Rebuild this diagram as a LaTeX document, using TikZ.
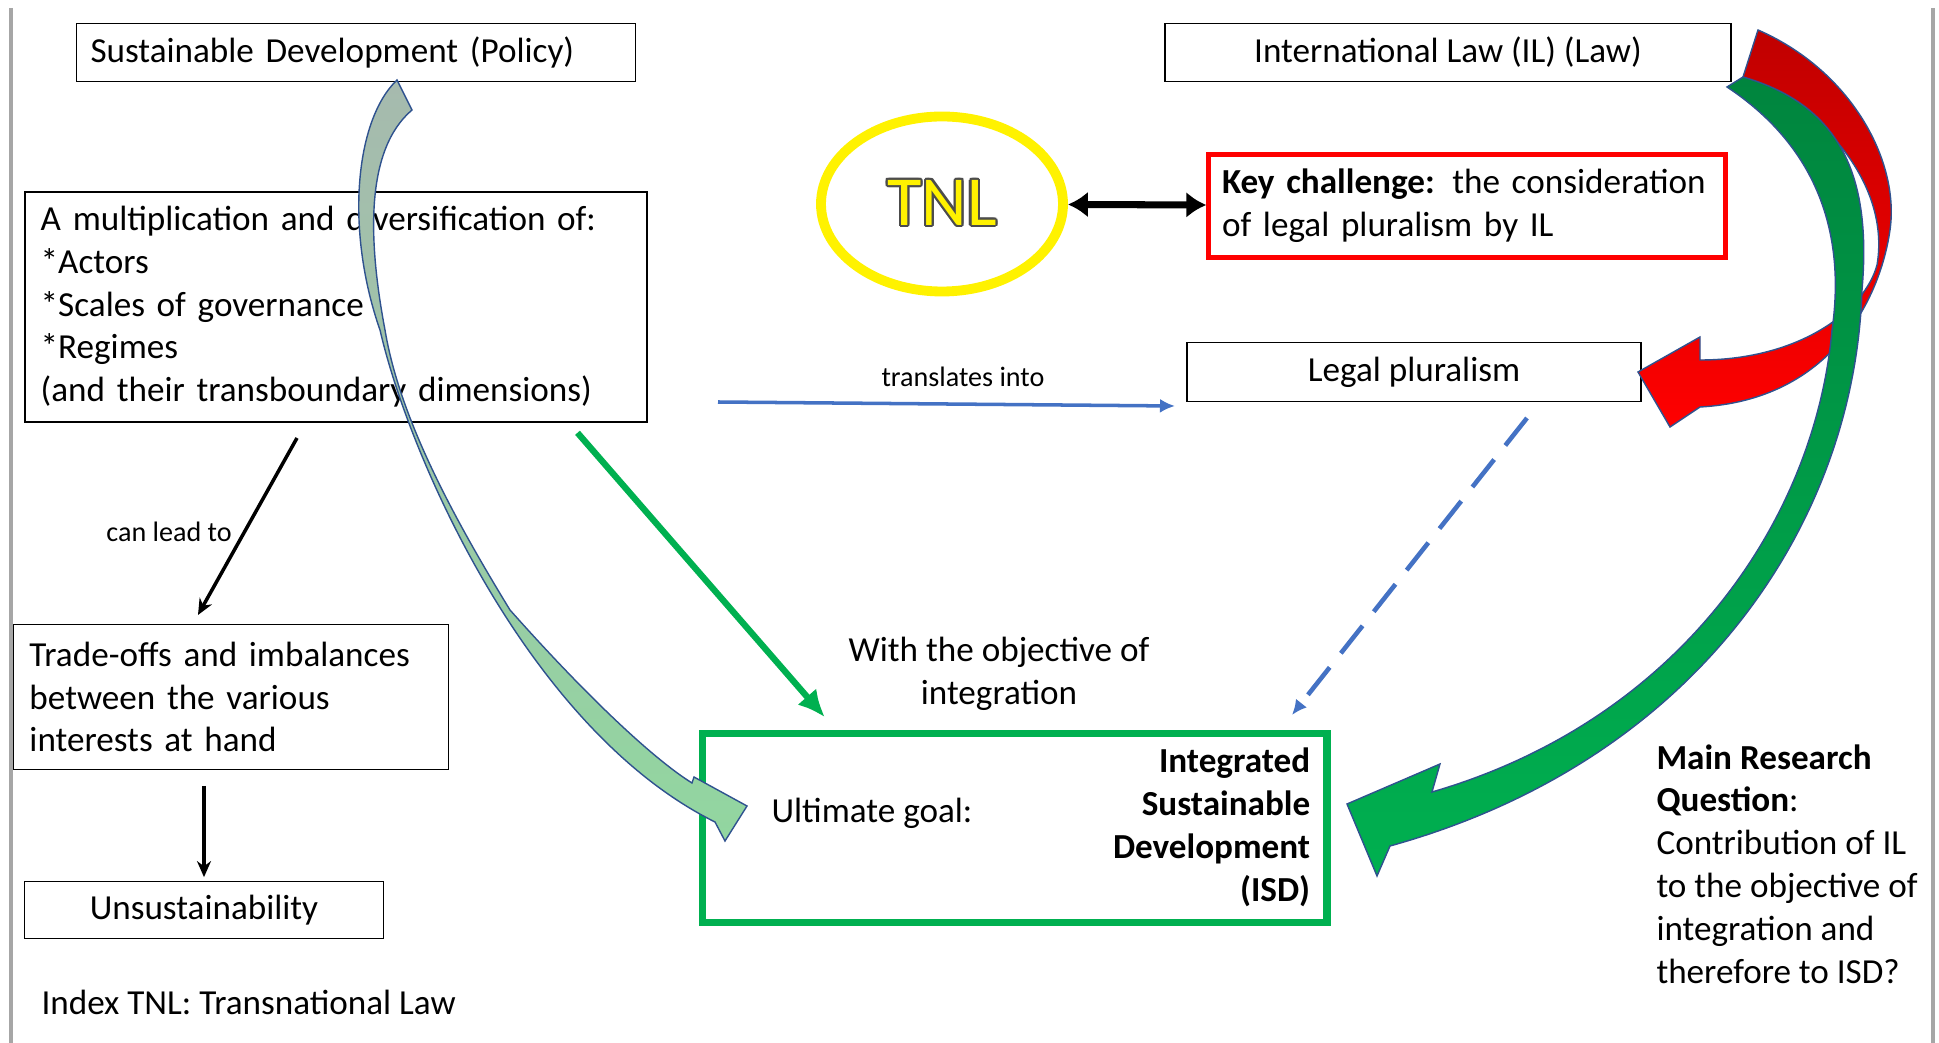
\documentclass[tikz,border=0pt]{standalone}
\usepackage{fontspec}
\setmainfont{Carlito}
\usepackage{contour}
\usetikzlibrary{arrows.meta,positioning,shapes.geometric}
\definecolor{goalgreen}{RGB}{0,176,80}
\definecolor{deepgreen}{RGB}{0,133,62}
\definecolor{officeblue}{RGB}{68,114,196}
\definecolor{rimblue}{RGB}{47,82,143}
\definecolor{deepred}{RGB}{192,0,0}
\definecolor{sage}{RGB}{166,186,174}
\definecolor{paleleaf}{RGB}{146,214,160}
\contourlength{0.6pt}
\tikzset{
	txt/.style={font=\fontsize{10}{12.2}\selectfont},
	bold/.style={font=\fontsize{10}{12.2}\selectfont\bfseries},
	small/.style={font=\fontsize{8}{9.6}\selectfont},
	box/.style={draw,rectangle,line width=0.5pt,align=center,txt},
	lbox/.style={box,align=left,inner xsep=0.16cm},
	goalbox/.style={draw=goalgreen,rectangle,line width=2.1pt},
	tnl/.style={ellipse,draw=yellow,line width=2.8pt,minimum width=2.42cm,minimum height=1.75cm,text=yellow,font=\fontsize{20}{24}\selectfont},
	pageline/.style={draw=gray!70,line width=1.2pt},
	thinflow/.style={-{Stealth[length=0.16cm,width=0.14cm]},line width=1pt},
	blueflow/.style={-{Latex[length=0.15cm,width=0.14cm]},draw=officeblue,line width=1pt},
	dashflow/.style={-{Latex[length=0.15cm,width=0.14cm]},draw=officeblue,line width=1.3pt,dash pattern=on 0.35cm off 0.18cm},
	greenflow/.style={-{Latex[length=0.27cm,width=0.25cm]},draw=goalgreen,line width=1.8pt},
	bigtwo/.style={{Latex[length=0.2cm,width=0.26cm]}-{Latex[length=0.2cm,width=0.26cm]},line width=2pt},
	sweep/.style={draw=rimblue,line width=0.4pt}
}
\begin{document}
\begin{tikzpicture}
	\useasboundingbox (0,0) rectangle (19.39,-10.43);
	\draw[pageline] (0.11,-0.08) -- (0.11,-10.43);
	\draw[pageline] (19.33,-0.08) -- (19.33,-10.43);

	\node[lbox,text width=5.31cm,minimum height=0.58cm,inner xsep=0.14cm] (SD) at (3.56, -0.525) {Sustainable Development (Policy)};
	\node[box,minimum width=5.66cm,minimum height=0.58cm] (IL) at (14.48, -0.525) {International Law (IL) (Law)};

	\node[tnl] (TNL) at (9.42, -2.04) {\contour{black!70}{TNL}};
	\node[lbox,draw=red,line width=1.2pt,text width=4.9cm,inner xsep=0.135cm,minimum height=1.03cm] (KC) at (14.67, -2.06) {\textbf{Key challenge:} the consideration\\of legal pluralism by IL};

	\node[lbox,text width=5.90cm,minimum height=2.30cm] (MD) at (3.357, -3.067) {A multiplication and diversification of:\\{}*Actors\\{}*Scales of governance\\{}*Regimes\\(and their transboundary dimensions)};

	\node[box,minimum width=4.54cm,minimum height=0.59cm] (LP) at (14.14, -3.72) {Legal pluralism};
	\node[small] (TR) at (9.63, -3.77) {translates into};

	\node[small] (CL) at (1.69, -5.32) {can lead to};
	\node[lbox,text width=4.03cm,minimum height=1.45cm] (TO) at (2.31, -6.97) {Trade-offs and imbalances\\between the various\\interests at hand};
	\node[box,minimum width=3.59cm,minimum height=0.57cm] (UN) at (2.04, -9.10) {Unsustainability};
	\node[txt,anchor=west,inner sep=0] (IX) at (0.408, -10.02) {Index TNL: Transnational Law};

	\node[txt,align=center] (OBJ) at (9.99, -6.74) {With the objective of\\integration};
	\node[goalbox,minimum width=6.245cm,minimum height=1.892cm] (ISD) at (10.146, -8.279) {};
	\node[txt,inner sep=0] (UG) at (8.72, -8.137) {Ultimate goal:};
	\node[bold,align=right,anchor=east,inner sep=0] (ISDT) at (13.108, -8.273) {Integrated\\Sustainable\\Development\\(ISD)};

	\node[txt,align=left,anchor=west,inner sep=0] (MRQ) at (16.558, -8.64) {\textbf{Main Research}\\\textbf{Question}:\\Contribution of IL\\to the objective of\\integration and\\therefore to ISD?};

	\coordinate (TRa) at (7.18, -4.02);
	\coordinate (TRb) at (11.75, -4.06);
	\coordinate (CLa) at (2.97, -4.38);
	\coordinate (CLb) at (1.98, -6.15);
	\coordinate (GRa) at (5.775, -4.328);
	\coordinate (GRb) at (8.248, -7.172);
	\coordinate (DSa) at (15.27, -4.18);
	\coordinate (DSb) at (12.92, -7.15);

	\draw[bigtwo] (TNL) -- (KC);
	\draw[blueflow] (TRa) -- (TRb);
	\draw[thinflow] (CLa) -- (CLb);
	\draw[thinflow,shorten <=0.155cm,shorten >=0.035cm] (TO.south -| UN.north) -- (UN.north);
	\draw[greenflow] (GRa) -- (GRb);
	\draw[dashflow] (DSa) -- (DSb);

	% policy arrow into the goal
	\shade[sweep,top color=sage,bottom color=paleleaf] (3.97,-0.80)
		.. controls (3.55,-1.20) and (3.45,-2.30) .. (3.80,-3.30)
		.. controls (4.10,-4.60) and (5.30,-7.30) .. (7.15,-8.22)
		-- (7.25,-8.41) -- (7.47,-8.06) -- (6.94,-7.77) -- (6.92,-7.83)
		.. controls (6.55,-7.60) and (5.90,-7.00) .. (5.10,-6.10)
		.. controls (4.55,-5.20) and (4.00,-4.20) .. (3.85,-3.30)
		.. controls (3.68,-2.40) and (3.65,-1.50) .. (4.12,-1.10) -- cycle;

	% law arrows
	\shade[sweep,top color=deepred,bottom color=red] (17.58,-0.30)
		.. controls (18.50,-0.70) and (19.00,-1.60) .. (18.90,-2.30)
		.. controls (18.80,-3.00) and (18.30,-4.00) .. (17.00,-4.07)
		-- (16.70,-4.27) -- (16.38,-3.72) -- (17.00,-3.37) -- (17.00,-3.60)
		.. controls (18.00,-3.60) and (18.65,-3.10) .. (18.77,-2.65)
		.. controls (18.90,-1.90) and (18.30,-1.10) .. (17.43,-0.77) -- cycle;
	\shade[sweep,top color=deepgreen,bottom color=goalgreen] (17.43,-0.77)
		.. controls (18.40,-1.05) and (18.72,-1.75) .. (18.62,-2.90)
		.. controls (18.55,-5.20) and (17.00,-7.60) .. (13.90,-8.46)
		-- (13.77,-8.76) -- (13.47,-8.04) -- (14.40,-7.64) -- (14.32,-7.92)
		.. controls (16.80,-7.20) and (18.15,-5.20) .. (18.32,-3.30)
		.. controls (18.45,-2.40) and (18.22,-1.50) .. (17.27,-0.87) -- cycle;
\end{tikzpicture}
\end{document}
